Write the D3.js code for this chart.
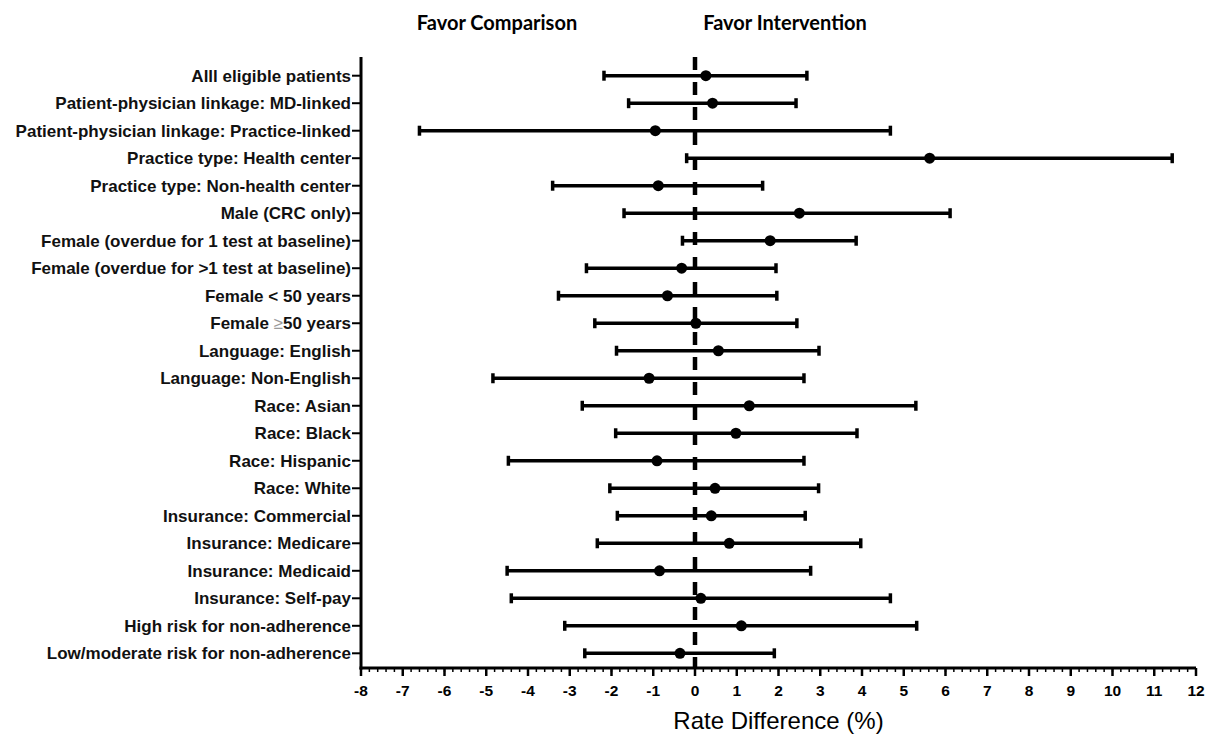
<!DOCTYPE html>
<meta charset="utf-8">
<script src="https://d3js.org/d3.v7.min.js"></script>
<style>
  body { margin: 0; background: #fff; }
  svg { display: block; }
  svg text.arial { font-family: Arial, Helvetica, "Liberation Sans", sans-serif; }
</style>
<body>
<div id="chart"></div>
<script>
// subgroup labels, top to bottom
var labels = [
  "Alll eligible patients",
  "Patient-physician linkage: MD-linked",
  "Patient-physician linkage: Practice-linked",
  "Practice type: Health center",
  "Practice type: Non-health center",
  "Male (CRC only)",
  "Female (overdue for 1 test at baseline)",
  "Female (overdue for >1 test at baseline)",
  "Female < 50 years",
  "Female \u226550 years",
  "Language: English",
  "Language: Non-English",
  "Race: Asian",
  "Race: Black",
  "Race: Hispanic",
  "Race: White",
  "Insurance: Commercial",
  "Insurance: Medicare",
  "Insurance: Medicaid",
  "Insurance: Self-pay",
  "High risk for non-adherence",
  "Low/moderate risk for non-adherence"
]

// rate difference (%) point estimate and CI bounds
var estimate = [0.26, 0.42, -0.95, 5.62, -0.88, 2.5, 1.8, -0.32, -0.66, 0.02, 0.56, -1.1,
                1.3, 0.98, -0.91, 0.48, 0.39, 0.82, -0.85, 0.14, 1.11, -0.36]
var lower = [-2.18, -1.59, -6.6, -0.2, -3.41, -1.7, -0.3, -2.6, -3.27, -2.4, -1.88, -4.84,
             -2.7, -1.9, -4.47, -2.04, -1.86, -2.34, -4.5, -4.4, -3.12, -2.64]
var upper = [2.68, 2.42, 4.68, 11.43, 1.62, 6.11, 3.86, 1.94, 1.96, 2.44, 2.97, 2.61,
             5.29, 3.88, 2.61, 2.96, 2.64, 3.97, 2.77, 4.68, 5.31, 1.9]

var xTicks = d3.range(-8, 13, 1)
var headers = ["Favor Comparison", "Favor Intervention"]
var axisTitle = "Rate Difference (%)"

var rows = labels.map(function (d, i) {
  return { label: d, est: estimate[i], lo: lower[i], hi: upper[i] }
})

var W = 1208, H = 735
var svg = d3.select("#chart").append("svg").attr("width", W).attr("height", H)

var x = d3.scaleLinear().domain([-8, 12]).range([361, 1196])
var y = d3.scalePoint().domain(labels).range([75.7, 653.3])
var yTop = 57, yBottom = 668

// zero reference line (dashed)
svg.append("line")
  .attr("x1", x(0)).attr("x2", x(0))
  .attr("y1", yTop).attr("y2", yBottom)
  .attr("stroke", "#000").attr("stroke-width", 4.5)
  .attr("stroke-dasharray", "13,12")

// y axis
var yAxis = svg.append("g")
  .attr("transform", "translate(" + x(-8) + ",0)")
yAxis.append("line")
  .attr("y1", yTop).attr("y2", yBottom + 1.5)
  .attr("stroke", "#000").attr("stroke-width", 3)
yAxis.selectAll(".tk").data(labels).enter().append("line")
  .attr("x1", -9).attr("x2", 0)
  .attr("y1", function (d) { return y(d) }).attr("y2", function (d) { return y(d) })
  .attr("stroke", "#000").attr("stroke-width", 2)

var lab = yAxis.selectAll(".lab").data(labels).enter().append("text")
  .attr("class", "arial")
  .attr("x", -10)
  .attr("y", function (d) { return y(d) })
  .attr("dy", "0.36em")
  .attr("text-anchor", "end")
  .attr("font-weight", "bold")
  .attr("font-size", 17)
  .attr("fill", "#111")
lab.each(function (d) {
  var t = d3.select(this)
  if (d.indexOf("\u2265") > -1) {
    var parts = d.split("\u2265")
    t.append("tspan").text(parts[0])
    t.append("tspan").text("\u2265").attr("fill", "#999").attr("font-weight", "normal")
    t.append("tspan").text(parts[1])
  } else {
    t.text(d)
  }
})

// x axis
var xAxis = svg.append("g").attr("transform", "translate(0," + yBottom + ")")
xAxis.append("line")
  .attr("x1", x(-8) - 1.5).attr("x2", x(12))
  .attr("stroke", "#000").attr("stroke-width", 3)
xAxis.selectAll(".minor").data(d3.range(-8, 12.001, 0.2)).enter().append("line")
  .attr("x1", function (d) { return x(d) }).attr("x2", function (d) { return x(d) })
  .attr("y1", 0).attr("y2", 4)
  .attr("stroke", "#000").attr("stroke-width", 1.5)
xAxis.selectAll(".major").data(xTicks).enter().append("line")
  .attr("x1", function (d) { return x(d) }).attr("x2", function (d) { return x(d) })
  .attr("y1", 0).attr("y2", 8)
  .attr("stroke", "#000").attr("stroke-width", 2.5)
xAxis.selectAll(".tl").data(xTicks).enter().append("text")
  .attr("class", "arial")
  .attr("x", function (d) { return x(d) })
  .attr("y", 28)
  .attr("text-anchor", "middle")
  .attr("font-weight", "bold")
  .attr("font-size", 15.5)
  .text(function (d) { return d })

svg.append("text")
  .attr("class", "arial")
  .attr("x", (x(-8) + x(12)) / 2)
  .attr("y", 729)
  .attr("text-anchor", "middle")
  .attr("font-size", 24)
  .text(axisTitle)

// header labels
svg.selectAll(".hdr").data(headers).enter().append("text")
  .attr("x", function (d, i) { return i === 0 ? 497 : 785 })
  .attr("y", 30)
  .attr("text-anchor", "middle")
  .attr("font-family", "Lato, 'Open Sans', sans-serif")
  .attr("font-weight", "bold")
  .attr("font-size", 20)
  .text(function (d) { return d })

// error bars
var g = svg.append("g").selectAll("g").data(rows).enter().append("g")
g.append("line")
  .attr("x1", function (d) { return x(d.lo) }).attr("x2", function (d) { return x(d.hi) })
  .attr("y1", function (d) { return y(d.label) }).attr("y2", function (d) { return y(d.label) })
  .attr("stroke", "#000").attr("stroke-width", 3.5)
g.selectAll(".cap").data(function (d) { return [[d.lo, d.label], [d.hi, d.label]] })
  .enter().append("line")
  .attr("x1", function (d) { return x(d[0]) }).attr("x2", function (d) { return x(d[0]) })
  .attr("y1", function (d) { return y(d[1]) - 5 }).attr("y2", function (d) { return y(d[1]) + 5 })
  .attr("stroke", "#000").attr("stroke-width", 3.5)
g.append("circle")
  .attr("cx", function (d) { return x(d.est) })
  .attr("cy", function (d) { return y(d.label) })
  .attr("r", 5.5)
  .attr("fill", "#000")
</script>
</body>
